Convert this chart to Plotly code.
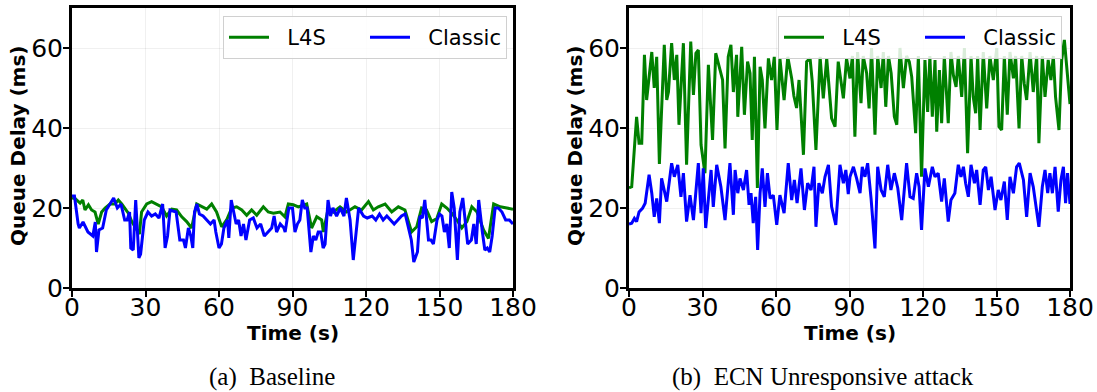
import plotly.graph_objects as go

# ---------------- data ----------------
base_l4s_t = [0, 1.2, 3.3, 4.4, 5.3, 6.7, 8, 9.4, 10.7, 12.1, 13.5, 15.5, 17.5, 18.9, 20.3, 21.6, 23,
              24.4, 26, 27.5, 28.4, 30.5, 32.5, 34.6, 36.6, 38.6, 40.7, 42.7, 44.8, 46.8, 48.8, 50.9,
              52.9, 55, 57, 59, 61.1, 63.1, 65.2, 67.2, 69.3, 71.3, 73.3, 75.4, 78.1, 80.1, 82.2, 84.9,
              86.9, 88.3, 90.3, 92.4, 95.8, 97.8, 99.9, 101.9, 102.6, 104.6, 106.7, 109.4, 112.1, 115.5,
              118.2, 121, 123, 125, 127.8, 130.5, 133.2, 135.9, 138.6, 140.7, 142.7, 144.7, 146.8, 148.9,
              150.9, 153, 155, 157.1, 159.1, 161.2, 163.2, 165.3, 168, 170, 172.1, 174.8, 177.5, 180]
base_l4s_v = [22.5, 22.4, 21.2, 22, 19.5, 20.8, 19.5, 19, 16, 19, 20, 21, 21, 22, 21, 20, 18.7,
              16.6, 15, 13.5, 19, 21, 21.6, 21, 20.3, 18, 19.7, 19.5, 17.8, 16.6, 15, 21,
              20.3, 19.7, 21, 19, 15.3, 17, 20, 20.3, 19.5, 18.2, 19.5, 18.2, 20.3, 19, 18.7, 19,
              17.8, 21, 20.8, 20.3, 21, 15, 17.8, 17, 14, 20, 19, 20.3, 19, 20.3,
              19.5, 21.6, 19.5, 20.3, 21, 19, 20.3, 19.5, 14, 15.3, 20, 19.5, 16.6, 17.4,
              21, 20, 18.7, 17, 15, 16.6, 20.3, 19, 14.5, 12.4, 21, 20.3, 20, 19.7]

base_cls_t = [0, 1, 2.5, 3, 4.5, 6.5, 8.5, 9.5, 10, 11, 12.5, 14, 17, 18.5, 20, 21.5, 22.5, 23.5, 24, 25,
              26, 27.3, 28, 29.5, 31, 32.5, 34, 35.5, 37, 38, 39, 40, 42.5, 44, 45.5, 46.3, 47.5, 48.5,
              49.3, 50, 51, 52, 53.5, 55, 56.5, 58, 58.7, 60, 61, 62, 63.5, 64, 65, 66, 67, 68, 69, 70,
              71, 72.5, 74, 75.5, 77, 78.5, 80, 81.5, 82.5, 83.5, 85, 86.5, 87, 88.5, 90, 91, 92, 93, 94,
              95, 96, 97.5, 98.5, 99.5, 100.5, 101.5, 102.5, 103.3, 104.5, 105.5, 106.5, 108, 109.5, 111,
              112, 113.5, 114.8, 116, 117, 119, 120.5, 122.5, 124, 125.5, 127, 128.5, 130, 131.5, 133,
              134.5, 136, 137.5, 138.5, 139.5, 141, 142, 143, 144, 145.5, 146.5, 147.5, 149, 150, 151,
              152, 153, 154, 155, 156, 157.3, 158.3, 159.5, 160.5, 161.5, 163, 164, 165, 166, 167.5,
              168.5, 169.5, 170.5, 171.5, 172.7, 174, 175.5, 177, 178.5, 180]
base_cls_v = [23, 23, 16, 15, 16.5, 14, 13, 16.5, 9, 14.5, 15, 19.5, 22.5, 20, 21, 17, 17, 19, 10, 9.5,
              22, 7.5, 8.5, 17, 19, 18, 18.5, 17.5, 21, 10, 13, 19.5, 19, 12, 12, 10, 15, 13,
              10, 19, 21, 18.5, 18, 17, 16, 17, 14, 10, 11, 15, 17, 12.5, 22, 19, 16, 17, 13, 16,
              12, 17, 17.5, 15, 16, 13, 14, 15, 18, 14, 16, 15, 14, 20, 20, 14, 16, 17, 22,
              20, 20, 9, 13, 12, 14, 14, 10, 11, 22, 18, 20, 18, 20, 18,
              22.5, 17, 7, 15, 20, 18, 17.5, 18, 17, 18.5, 17, 18, 17, 16, 17,
              18, 18.5, 15, 12, 6.5, 9, 18, 17.5, 22, 12, 12, 11, 17, 18.5, 18,
              14, 16, 10, 24, 20, 7, 19, 22.5, 16, 11, 12, 16, 11, 22, 14,
              9.5, 10, 9, 13, 20, 20, 19, 17, 17, 16]

atk_l4s_t = [0, 1.1, 3.1, 4.1, 5.2, 6.3, 7.2, 9.3, 10.3, 11.3, 12.4, 14.4, 15.4, 16.1, 17.4, 18.5, 19.5,
             20.4, 22.2, 23.5, 25.2, 26.3, 27.3, 28.3, 29.4, 31, 32.4, 34.1, 35.4, 37.1, 38.2, 39.2,
             40.5, 41.6, 42.6, 43.9, 44.4, 46, 47.1, 48.4, 49.4, 50.3, 51.2, 52.4, 53.5, 54.4, 55.5,
             56.9, 58.2, 59.3, 60.4, 61.6, 63.3, 64.8, 66.4, 67.3, 68.4, 69.4, 71.2, 72.5, 73.9, 74.8,
             76.3, 78, 79.3, 80.7, 82.7, 84.1, 85.4, 87.5, 88.8, 90.2, 91.2, 92.2, 93.3, 94.7, 95.6,
             97, 98, 99, 100.4, 101.5, 102.9, 103.8, 104.8, 105.9, 107, 108.3, 109.3, 110.6, 112,
             113.3, 114.4, 115.4, 117, 118.1, 119.4, 120.8, 121.9, 122.8, 123.8, 124.9, 125.6, 126.7,
             127.6, 128.7, 130.3, 131.4, 132.4, 133.5, 134.4, 135.8, 136.9, 138.2, 139.6, 140.5,
             141.5, 142.3, 143.3, 144.6, 146, 147.3, 148.7, 150.1, 151, 152.1, 153.2, 154.4, 155.5,
             156.9, 157.8, 159.2, 160.3, 161.3, 162.3, 163.7, 165, 166.4, 167.3, 168.7, 169.8, 171.1,
             172.2, 173.2, 174.1, 175.5, 176.6, 177.7, 180]
atk_l4s_v = [25, 25.3, 42.8, 36.2, 36.2, 58.3, 47, 59, 50, 57.8, 31, 60.8, 47, 49, 61.2, 52, 58.3,
             40.8, 61.2, 30.8, 61.6, 48.3, 58.7, 59.5, 35.8, 28.7, 55.8, 37, 58.7, 54.5, 52, 34.9,
             57.8, 60.8, 49, 58.3, 42.8, 60.3, 43.3, 56.6, 53.7, 37, 57.8, 25, 55.3, 52, 39.9,
             57.4, 52, 57.8, 39.5, 57.4, 47, 57.8, 52.4, 48, 45, 52, 33.3, 56.6, 57.4, 51.6,
             34.5, 57.8, 47.4, 57.4, 42.4, 40.3, 56.6, 47.4, 57.4, 52.4, 58, 37.8, 59, 46.2, 58,
             53.7, 44.9, 60, 38.3, 58, 50, 59, 45.3, 58, 53.7, 42.8, 40.8, 60, 50,
             58, 56.6, 52.8, 38.7, 58, 27.8, 57, 44, 58, 42.8, 57, 39.1, 54.5,
             41.2, 58, 41.2, 59, 53.2, 50.3, 58, 47.8, 60, 33.7, 58, 47.8,
             43.7, 58, 39.5, 59, 44.9, 58, 52, 60, 40.3, 39.5, 58, 43.3, 59,
             52.4, 58, 39.9, 58, 51.2, 47, 59, 49, 58, 36.2, 58, 47.8, 57,
             52, 58, 47.8, 39.5, 57, 62, 46]

atk_cls_t = [0, 1.1, 2.2, 3.1, 4.1, 5.5, 6.6, 8.2, 9.3, 10.3, 11.3, 12.4, 13.3, 15.4, 17.4, 18.5, 19.9,
             21.2, 22.2, 23.5, 24.9, 26.3, 28.3, 29.4, 30.3, 31.3, 33.5, 34.4, 35.8, 37.5, 39.2, 41.2,
             42.6, 43.3, 44.4, 45.3, 46.7, 48, 49, 49.8, 50.7, 51.7, 52.5, 53.5, 54.4, 55.5, 56.5,
             57.6, 58.9, 60.3, 61.6, 63.3, 65, 66.4, 67.5, 68.6, 70.2, 71.6, 72.9, 74.3, 75.5, 76.3,
             77.5, 78.9, 80, 81.4, 82.7, 84.4, 86.1, 87.5, 88.5, 89.5, 90.2, 91.6, 92.9, 94.3, 95.2,
             96.3, 97.4, 98.8, 100.4, 101.5, 102.9, 104.2, 105.6, 106.9, 108.3, 109.7, 111.3, 113.3,
             114.7, 116, 117.4, 118.4, 119.4, 120.8, 122.2, 123.8, 124.9, 126.2, 127.6, 128.7, 130.3,
             131.4, 133, 134.4, 135.5, 136.5, 137.4, 138.5, 139.6, 141, 141.9, 143.3, 144.6, 145.6,
             146.7, 147.8, 149.4, 150.7, 151.8, 153.2, 154.4, 155.5, 156.9, 158.2, 159.3, 161, 162.3,
             163.7, 165, 167.3, 168.7, 169.8, 170.9, 171.8, 172.8, 173.9, 175.2, 176.3, 177.3, 178.2,
             179, 180]
atk_cls_v = [16, 16.2, 17.4, 16.6, 19, 19.9, 21.2, 28.3, 23.7, 17.8, 22.4, 16.2, 27.4, 21.6, 31.2, 27.8, 30.8,
             22.8, 28.7, 16.6, 23.2, 17, 31.2, 18.7, 29.9, 15, 29.5, 20.3, 30.8, 25.3, 17, 31.2,
             18.3, 29.5, 23.7, 27.4, 24.5, 29.5, 20.8, 23.7, 16.2, 22.8, 9.5, 23.7, 29.9, 20.3, 28.7,
             22.4, 23.2, 15.8, 23.2, 18.7, 31.2, 22, 27, 21.2, 29.9, 19.5, 26.2, 24.5, 30.3, 15.3,
             26.2, 23.7, 27.8, 30.8, 20.3, 15.8, 30.8, 26.2, 29.5, 23.5, 27.8, 30.3, 27.4, 23.7, 30.3,
             27.8, 31.2, 22.4, 9.9, 30.3, 24.5, 22.8, 30.8, 24.5, 28.7, 25, 17, 31.2,
             22.8, 22.4, 28.7, 25.3, 14.5, 29.9, 25.3, 30.3, 27.8, 28.7, 21.6, 27.4, 16.6,
             22, 23.7, 30.8, 27.8, 30.3, 26.2, 22.8, 30.8, 26.2, 29.5, 20.8, 29.5, 30.3,
             24.5, 27.8, 19.5, 24.5, 22, 26.6, 17, 27.8, 23.7, 30.3, 31.2, 27, 17.8,
             28.7, 25.3, 15.3, 25.3, 29.5, 23.7, 28.7, 23.7, 30.3, 19.1, 27, 30.3, 21.2,
             28.7, 21]

series_names = ["L4S", "Classic"]
series_colors = ["#008000", "#0000ff"]
x_ticks = [0, 30, 60, 90, 120, 150, 180]
y_ticks = [0, 20, 40, 60]
x_title = "Time (s)"
y_title = "Queue Delay (ms)"
captions = ["(a)\u00a0\u00a0Baseline", "(b)\u00a0\u00a0ECN Unresponsive attack"]

# ---------------- figure ----------------
fig = go.Figure()

panels = [
    (base_l4s_t, base_l4s_v, base_cls_t, base_cls_v, "x", "y", "legend"),
    (atk_l4s_t, atk_l4s_v, atk_cls_t, atk_cls_v, "x2", "y2", "legend2"),
]
NB = "\u00a0\u00a0"
for (lt, lv, ct, cv, xa, ya, lg) in panels:
    for name, color, tt, vv in zip(series_names, series_colors, [lt, ct], [lv, cv]):
        fig.add_trace(go.Scatter(
            x=tt, y=vv, mode="lines", name=NB + name,
            line=dict(color=color, width=3),
            xaxis=xa, yaxis=ya, legend=lg,
        ))

axis_common = dict(
    showline=True, linecolor="black", linewidth=3, mirror=True,
    ticks="outside", ticklen=6, tickwidth=2, tickcolor="black",
    showgrid=True, gridcolor="rgba(0,0,0,0.06)", gridwidth=1,
    zeroline=False,
    tickfont=dict(family="DejaVu Sans", size=25, color="black"),
)
title_font = dict(family="DejaVu Sans", size=20, color="black")

W, H = 1097, 392
ml, mr, mt, mb = 72, 27, 8, 104
pw = W - ml - mr
ph = H - mt - mb
d1 = (513 - ml) / pw
d2 = (629 - ml) / pw

xcommon = dict(range=[0, 180], tickvals=x_ticks, ticklabelstandoff=-11, **axis_common)
ycommon = dict(domain=[0, 1], range=[0, 70], tickvals=y_ticks, ticklabelstandoff=-5, **axis_common)

legend_common = dict(
    orientation="h", yanchor="top", y=1 - (16 - mt) / ph,
    bgcolor="rgba(255,255,255,0.85)", bordercolor="#d0d0d0", borderwidth=1,
    font=dict(family="DejaVu Sans", size=21, color="black"),
    entrywidth=86, itemwidth=40,
)

fig.update_layout(
    width=W, height=H,
    margin=dict(l=ml, r=mr, t=mt, b=mb, autoexpand=False),
    paper_bgcolor="white", plot_bgcolor="white",
    showlegend=True,
    xaxis=dict(domain=[0, d1], **xcommon),
    yaxis=dict(**ycommon),
    xaxis2=dict(domain=[d2, 1], anchor="y2", **xcommon),
    yaxis2=dict(anchor="x2", **ycommon),
    legend=dict(x=(507 - ml) / pw, xanchor="right", **legend_common),
    legend2=dict(x=(1062 - ml) / pw, xanchor="right", **legend_common),
)

def px_x(p):
    return (p - ml) / pw

def px_y(p):
    return (H - mb - p) / ph

# axis titles (pixel positions)
for cx in [293, 850]:
    fig.add_annotation(text="<b>" + x_title + "</b>", xref="paper", yref="paper",
                       x=px_x(cx), y=px_y(333), xanchor="center", yanchor="middle",
                       showarrow=False, font=title_font)
for cx in [18, 575]:
    fig.add_annotation(text="<b>" + y_title + "</b>", xref="paper", yref="paper",
                       x=px_x(cx), y=px_y(146), xanchor="center", yanchor="middle",
                       textangle=-90, showarrow=False, font=title_font)

# sub-captions
for cap, cx in zip(captions, [272, 823]):
    fig.add_annotation(
        text=cap, xref="paper", yref="paper",
        x=px_x(cx), y=px_y(377), xanchor="center", yanchor="middle",
        showarrow=False, font=dict(family="Liberation Serif", size=25, color="black"),
    )

fig.write_html("out.html", config={"displayModeBar": False},
               post_script="document.body.style.margin='0px';document.body.style.overflow='hidden';")
